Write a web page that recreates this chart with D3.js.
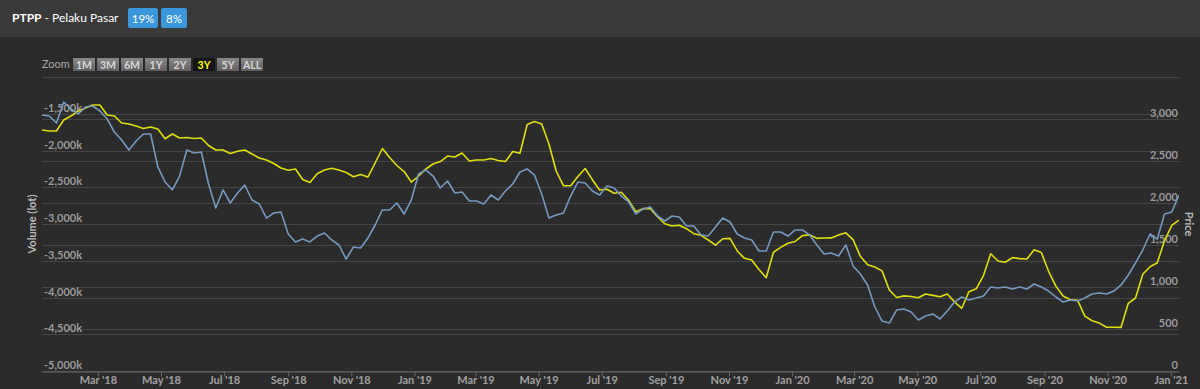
<!DOCTYPE html>
<html>
<head>
<meta charset="utf-8">
<script src="https://cdn.jsdelivr.net/npm/d3@7"></script>
<style>
  body { margin: 0; background: #2b2b2b; }
  svg { display: block; font-family: Lato, 'Open Sans', sans-serif; }
</style>
</head>
<body>
<div id="chart"></div>
<script>
// weekly readings, first week starts 6 Jan 2018
const startDate = new Date(2018, 0, 6);
const endDate = new Date(2021, 0, 9);

// Price (right axis)
const priceValues = [3048, 3036, 2952, 3202, 3119, 3060, 3143, 3155, 3095, 3000,
  2845, 2750, 2631, 2738, 2821, 2821, 2429, 2250, 2155, 2321,
  2631, 2595, 2607, 2226, 1940, 2155, 2000, 2119, 2214, 2036,
  1988, 1821, 1881, 1893, 1631, 1536, 1571, 1536, 1607, 1643,
  1560, 1500, 1333, 1476, 1464, 1583, 1738, 1917, 1917, 2000,
  1869, 2036, 2345, 2393, 2321, 2179, 2262, 2119, 2131, 2024,
  2024, 1988, 2095, 2036, 2143, 2226, 2369, 2405, 2333, 2107,
  1821, 1857, 1881, 2083, 2250, 2238, 2143, 2095, 2202, 2179,
  2083, 2012, 1869, 1929, 1952, 1845, 1786, 1845, 1833, 1726,
  1726, 1619, 1607, 1714, 1821, 1774, 1631, 1583, 1560, 1429,
  1429, 1655, 1655, 1607, 1679, 1679, 1619, 1500, 1393, 1405,
  1369, 1500, 1250, 1155, 1024, 762, 595, 571, 726, 738,
  702, 607, 655, 679, 619, 714, 821, 881, 845, 869,
  893, 1000, 988, 1000, 976, 1000, 976, 1036, 1000, 952,
  881, 821, 845, 833, 869, 917, 929, 917, 952, 1024,
  1143, 1286, 1440, 1631, 1571, 1869, 1893, 2095];

// Net volume in thousand lot (left axis)
const volumeValues = [-1721, -1735, -1735, -1585, -1531, -1463, -1422, -1381, -1381, -1517,
  -1531, -1626, -1640, -1667, -1701, -1680, -1708, -1840, -1776, -1830,
  -1823, -1837, -1830, -1932, -1993, -1993, -2041, -2011, -1993, -2048,
  -2102, -2129, -2177, -2238, -2269, -2252, -2395, -2435, -2316, -2265,
  -2242, -2265, -2299, -2357, -2327, -2361, -2170, -1973, -2095, -2204,
  -2286, -2429, -2347, -2252, -2184, -2150, -2075, -2089, -2034, -2143,
  -2129, -2129, -2109, -2136, -2150, -2014, -2038, -1646, -1606, -1640,
  -1912, -2279, -2479, -2479, -2354, -2245, -2397, -2537, -2528, -2582,
  -2569, -2678, -2833, -2791, -2791, -2901, -2997, -3027, -3018, -3064,
  -3132, -3154, -3218, -3288, -3201, -3196, -3367, -3467, -3490, -3620,
  -3731, -3384, -3318, -3261, -3238, -3158, -3148, -3195, -3191, -3189,
  -3150, -3120, -3212, -3440, -3555, -3585, -3638, -3898, -4000, -3978,
  -3986, -4004, -3952, -3971, -3989, -3952, -4059, -4147, -3921, -3882,
  -3702, -3405, -3503, -3521, -3457, -3471, -3476, -3350, -3389, -3646,
  -3845, -3980, -4031, -4037, -4254, -4316, -4348, -4404, -4404, -4406,
  -4079, -4007, -3683, -3581, -3527, -3227, -3020, -2946];

const volumeTicks = [-5000, -4500, -4000, -3500, -3000, -2500, -2000, -1500, -1000];
const priceTicks = [0, 500, 1000, 1500, 2000, 2500, 3000, 3500];
const zoomLabels = ['1M', '3M', '6M', '1Y', '2Y', '3Y', '5Y', 'ALL'];
const selectedZoom = '3Y';
const badges = ['19%', '8%'];

const width = 1200,
  height = 389;

const plot = { left: 42, right: 1179, top: 77, bottom: 371 };

const svg = d3.select('#chart')
  .append('svg')
  .attr('width', width)
  .attr('height', height);

svg.append('rect')
  .attr('width', width)
  .attr('height', height)
  .attr('fill', '#2b2b2b');

//Header bar
svg.append('rect')
  .attr('width', width)
  .attr('height', 37)
  .attr('fill', '#3a3a3a');

const title = svg.append('text')
  .attr('x', 12)
  .attr('y', 22)
  .attr('fill', '#ffffff')
  .style('font-size', '12px');
title.append('tspan').style('font-weight', 'bold').text('PTPP');
title.append('tspan').text(' - Pelaku Pasar');

const badgeX = [128, 161],
  badgeW = [30, 26];
const badge = svg.selectAll('.badge')
  .data(badges)
  .enter().append('g')
  .attr('class', 'badge')
  .attr('transform', function (d, i) {
    return 'translate(' + badgeX[i] + ',8)';
  });
badge.append('rect')
  .attr('width', function (d, i) { return badgeW[i]; })
  .attr('height', 20)
  .attr('rx', 2)
  .attr('fill', '#3a97dc');
badge.append('text')
  .attr('x', function (d, i) { return badgeW[i] / 2; })
  .attr('y', 14.5)
  .attr('text-anchor', 'middle')
  .attr('fill', '#ffffff')
  .style('font-size', '11.5px')
  .text(function (d) { return d; });

//Range selector
svg.append('text')
  .attr('x', 42)
  .attr('y', 68)
  .attr('fill', '#aaaaaa')
  .style('font-size', '11px')
  .text('Zoom');

const defs = svg.append('defs');
const grad = defs.append('linearGradient')
  .attr('id', 'btnGrad')
  .attr('x1', 0).attr('y1', 0).attr('x2', 0).attr('y2', 1);
grad.append('stop').attr('offset', '0%').attr('stop-color', '#8a8a8a');
grad.append('stop').attr('offset', '100%').attr('stop-color', '#5e5e5e');

defs.append('clipPath')
  .attr('id', 'plotClip')
  .append('rect')
  .attr('x', plot.left)
  .attr('y', plot.top - 2)
  .attr('width', plot.right - plot.left)
  .attr('height', plot.bottom - plot.top + 2);

const btn = svg.selectAll('.zoomBtn')
  .data(zoomLabels)
  .enter().append('g')
  .attr('class', 'zoomBtn')
  .attr('transform', function (d, i) {
    return 'translate(' + (72.5 + i * 24) + ',57.5)';
  });
btn.append('rect')
  .attr('width', 23)
  .attr('height', 14)
  .attr('fill', function (d) { return d === selectedZoom ? '#151515' : 'url(#btnGrad)'; })
  .attr('stroke', '#2a2a2a')
  .attr('stroke-width', 1);
btn.append('text')
  .attr('x', 11.5)
  .attr('y', 11)
  .attr('text-anchor', 'middle')
  .attr('fill', function (d) { return d === selectedZoom ? '#ffff00' : '#d6d6d6'; })
  .style('font-size', '10.5px')
  .style('font-weight', 'bold')
  .text(function (d) { return d; });

//Scales
const x = d3.scaleTime()
  .domain([startDate, endDate])
  .range([plot.left, plot.right]);

const yVol = d3.scaleLinear()
  .domain([-5000, -1000])
  .range([plot.bottom, plot.top]);

const yPrice = d3.scaleLinear()
  .domain([0, 3500])
  .range([plot.bottom, plot.top]);

const dates = priceValues.map(function (d, i) {
  return d3.timeDay.offset(startDate, i * 7);
});

//Gridlines
const grid = svg.append('g').attr('class', 'grid');
grid.selectAll('.gridVol')
  .data(volumeTicks)
  .enter().append('line')
  .attr('x1', plot.left)
  .attr('x2', plot.right)
  .attr('y1', function (d) { return Math.round(yVol(d)) + 0.5; })
  .attr('y2', function (d) { return Math.round(yVol(d)) + 0.5; })
  .attr('stroke', '#454545');
grid.selectAll('.gridPrice')
  .data(priceTicks)
  .enter().append('line')
  .attr('x1', plot.left)
  .attr('x2', plot.right)
  .attr('y1', function (d) { return Math.round(yPrice(d)) + 0.5; })
  .attr('y2', function (d) { return Math.round(yPrice(d)) + 0.5; })
  .attr('stroke', '#454545');

//Y axis labels
const fmt = d3.format(',');
svg.selectAll('.volLabel')
  .data(volumeTicks.filter(function (d) { return d < -1000; }))
  .enter().append('text')
  .attr('class', 'volLabel')
  .attr('x', 44)
  .attr('y', function (d) { return yVol(d) - 2; })
  .attr('fill', '#9a9a9a')
  .style('font-size', '11px')
  .style('font-weight', 'bold')
  .text(function (d) { return '-' + fmt(Math.abs(d)) + 'k'; });

svg.selectAll('.priceLabel')
  .data(priceTicks.filter(function (d) { return d < 3500; }))
  .enter().append('text')
  .attr('class', 'priceLabel')
  .attr('x', 1178)
  .attr('y', function (d) { return yPrice(d) - 2; })
  .attr('text-anchor', 'end')
  .attr('fill', '#9a9a9a')
  .style('font-size', '11px')
  .style('font-weight', 'bold')
  .text(function (d) { return fmt(d); });

//Axis titles
svg.append('text')
  .attr('transform', 'translate(36,' + (plot.top + plot.bottom) / 2 + ') rotate(-90)')
  .attr('text-anchor', 'middle')
  .attr('fill', '#bbbbbb')
  .style('font-size', '11px')
  .style('font-weight', 'bold')
  .text('Volume (lot)');

svg.append('text')
  .attr('transform', 'translate(1185,' + (plot.top + plot.bottom) / 2 + ') rotate(90)')
  .attr('text-anchor', 'middle')
  .attr('fill', '#bbbbbb')
  .style('font-size', '11px')
  .style('font-weight', 'bold')
  .text('Price');

//X axis
const xAxis = svg.append('g')
  .attr('transform', 'translate(0,' + (plot.bottom + 0.5) + ')')
  .call(d3.axisBottom(x)
    .ticks(d3.timeMonth.every(2))
    .tickSize(5)
    .tickSizeOuter(0)
    .tickFormat(d3.timeFormat("%b '%y")));
xAxis.select('.domain').attr('stroke', '#6a6a6a');
xAxis.selectAll('.tick line').attr('stroke', '#6a6a6a');
xAxis.selectAll('.tick text')
  .attr('fill', '#a0a0a0')
  .attr('dy', '0.71em')
  .attr('y', 5)
  .style('font-size', '11px')
  .style('font-weight', 'bold')
  .style('font-family', 'Lato, sans-serif');

//Series
const lines = svg.append('g').attr('clip-path', 'url(#plotClip)');

const volLine = d3.line()
  .x(function (d, i) { return x(dates[i]); })
  .y(function (d) { return yVol(d); });

const priceLine = d3.line()
  .x(function (d, i) { return x(dates[i]); })
  .y(function (d) { return yPrice(d); });

lines.append('path')
  .datum(volumeValues)
  .attr('d', volLine)
  .attr('fill', 'none')
  .attr('stroke', '#dddf0d')
  .attr('stroke-width', 1.6)
  .attr('stroke-linejoin', 'round');

lines.append('path')
  .datum(priceValues)
  .attr('d', priceLine)
  .attr('fill', 'none')
  .attr('stroke', '#7798bf')
  .attr('stroke-width', 1.6)
  .attr('stroke-linejoin', 'round');
</script>
</body>
</html>
